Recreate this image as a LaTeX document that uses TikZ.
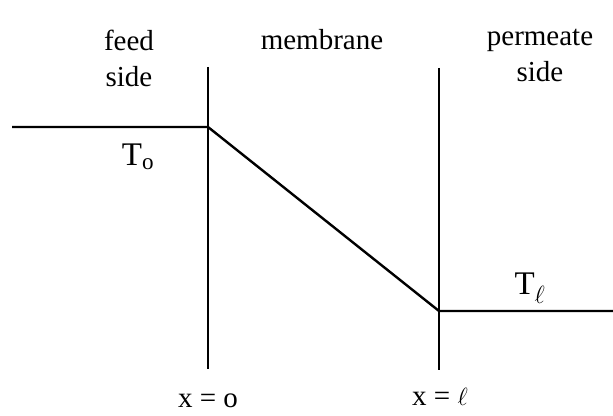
\documentclass[tikz,border=0pt]{standalone}
\usepackage{fontspec}
\setmainfont{Liberation Serif}
\usetikzlibrary{calc}

\begin{document}
\begin{tikzpicture}[x=1pt, y=1pt]
    \tikzset{
        wall/.style={line width=1.3pt},
        profile/.style={line width=2.4pt, line join=round},
        lbl/.style={font=\fontsize{29}{36}\selectfont, align=center, inner sep=0pt},
        temp/.style={lbl, font=\fontsize{33}{38}\selectfont}
    }
    \useasboundingbox (0,0) rectangle (613,415);

    % membrane faces
    \coordinate (w0top) at (208,348);
    \coordinate (w0bot) at (208,46);
    \coordinate (wltop) at (439,347);
    \coordinate (wlbot) at (439,45);
    \draw[wall] (w0top) -- (w0bot);
    \draw[wall] (wltop) -- (wlbot);

    % temperature profile
    \coordinate (feedend) at (12,288);
    \coordinate (t0) at (208,288);
    \coordinate (tl) at (439,104);
    \coordinate (permend) at (613,104);
    \draw[profile] (feedend) -- (t0) -- (tl) -- (permend);

    \node[lbl] (feed) at (129,357) {feed\\side};
    \node[lbl] (memb) at (322,375) {membrane};
    \node[lbl] (perm) at (540,360) {permeate\\side};

    \node[temp] (T0) at (138,258) {T\textsubscript{o}};
    \node[temp] (Tl) at (530,127) {T$_\ell$};

    \node[lbl] (x0) at (208,14) {x = o};
    \node[lbl] (xl) at (440,18) {x = $\ell$};
\end{tikzpicture}
\end{document}
